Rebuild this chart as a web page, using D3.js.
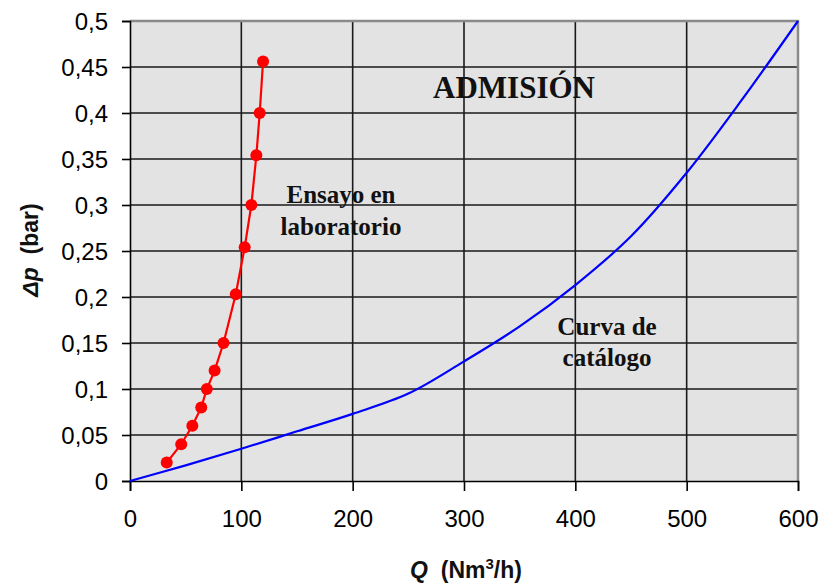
<!DOCTYPE html>
<html>
<head>
<meta charset="utf-8">
<script src="https://cdn.jsdelivr.net/npm/d3@7"></script>
<style>
  body { margin: 0; background: #fff; }
  svg { display: block; }
</style>
</head>
<body>
<svg id="chart" width="822" height="588"></svg>
<script>
// ensayo en laboratorio (red points)
var labQ  = [33, 46, 56, 64, 69, 76, 84, 95, 103, 109, 113.5, 116.5, 119.5];
var labDp = [0.02, 0.04, 0.06, 0.08, 0.10, 0.12, 0.15, 0.203, 0.254, 0.30, 0.354, 0.40, 0.456];

// curva de catalogo (blue line)
var catQ  = [0, 50, 100, 150, 200, 250, 300, 350, 400, 450, 500, 550, 600];
var catDp = [0, 0.017, 0.035, 0.054, 0.073, 0.095, 0.13, 0.168, 0.213, 0.266, 0.335, 0.415, 0.5];

var xTicks = [0, 100, 200, 300, 400, 500, 600];
var yTicks = [0, 0.05, 0.1, 0.15, 0.2, 0.25, 0.3, 0.35, 0.4, 0.45, 0.5];

var svg = d3.select("#chart");
var pLeft = 130, pRight = 798, pTop = 21, pBottom = 481;

var x = d3.scaleLinear().domain([0, 600]).range([pLeft, pRight]);
var y = d3.scaleLinear().domain([0, 0.5]).range([pBottom, pTop]);

var fmt = function(d) { return String(+d.toFixed(2)).replace(".", ","); };

// plot background
svg.append("rect")
  .attr("x", pLeft).attr("y", pTop)
  .attr("width", pRight - pLeft).attr("height", pBottom - pTop)
  .attr("fill", "#e3e3e3");

// grid
svg.append("g").selectAll("line")
  .data(yTicks.slice(1, -1))
  .enter().append("line")
    .attr("x1", pLeft).attr("x2", pRight)
    .attr("y1", function(d) { return y(d); })
    .attr("y2", function(d) { return y(d); })
    .attr("stroke", "#1a1a1a").attr("stroke-width", 1.6);

svg.append("g").selectAll("line")
  .data(xTicks.slice(1, -1))
  .enter().append("line")
    .attr("y1", pTop).attr("y2", pBottom)
    .attr("x1", function(d) { return x(d); })
    .attr("x2", function(d) { return x(d); })
    .attr("stroke", "#1a1a1a").attr("stroke-width", 1.6);

// grey frame top and right
svg.append("path")
  .attr("d", "M" + pLeft + "," + pTop + "H" + pRight + "V" + pBottom)
  .attr("fill", "none").attr("stroke", "#8a8a8a").attr("stroke-width", 2.5);

// axes
var yAxis = svg.append("g")
  .attr("transform", "translate(" + pLeft + ",0)")
  .call(d3.axisLeft(y).tickValues(yTicks).tickFormat(fmt).tickSize(8).tickPadding(14));

var xAxis = svg.append("g")
  .attr("transform", "translate(0," + pBottom + ")")
  .call(d3.axisBottom(x).tickValues(xTicks).tickFormat(d3.format("d")).tickSize(10).tickPadding(19));

[yAxis, xAxis].forEach(function(ax) {
  ax.select(".domain").attr("stroke", "#000").attr("stroke-width", 1.6);
  ax.selectAll(".tick line").attr("stroke", "#000").attr("stroke-width", 1.6);
  ax.selectAll(".tick text")
    .attr("font-family", "Arial, 'Liberation Sans', sans-serif")
    .attr("font-size", 24)
    .attr("fill", "#000");
});
yAxis.selectAll(".tick text").attr("dy", "0.36em");

// catalogue curve
var catLine = d3.line()
  .x(function(d) { return x(d[0]); })
  .y(function(d) { return y(d[1]); })
  .curve(d3.curveCatmullRom);

svg.append("path")
  .datum(d3.zip(catQ, catDp))
  .attr("d", catLine)
  .attr("fill", "none")
  .attr("stroke", "#0000ff")
  .attr("stroke-width", 2.2);

// lab data
var labData = d3.zip(labQ, labDp);
var labLine = d3.line()
  .x(function(d) { return x(d[0]); })
  .y(function(d) { return y(d[1]); });

svg.append("path")
  .datum(labData)
  .attr("d", labLine)
  .attr("fill", "none")
  .attr("stroke", "#ff0000")
  .attr("stroke-width", 2.2);

svg.selectAll("circle.lab")
  .data(labData)
  .enter().append("circle")
    .attr("class", "lab")
    .attr("cx", function(d) { return x(d[0]); })
    .attr("cy", function(d) { return y(d[1]); })
    .attr("r", 6)
    .attr("fill", "#ff0000");

// annotations
var serif = "'Times New Roman', 'Liberation Serif', serif";
function note(txt, cx, cy, size) {
  svg.append("text")
    .attr("x", cx).attr("y", cy)
    .attr("text-anchor", "middle")
    .attr("font-family", serif)
    .attr("font-weight", "bold")
    .attr("font-size", size)
    .attr("fill", "#111")
    .text(txt);
}
note("ADMISIÓN", 514, 98, 31);
note("Ensayo en", 341, 203, 25);
note("laboratorio", 341, 235, 25);
note("Curva de", 607, 335, 25);
note("catálogo", 607, 366, 25);

// axis titles
var sans = "Arial, 'Liberation Sans', sans-serif";
var yt = svg.append("text")
  .attr("transform", "translate(38,250) rotate(-90)")
  .attr("text-anchor", "middle")
  .attr("font-family", sans)
  .attr("font-weight", "bold")
  .attr("font-size", 23)
  .attr("fill", "#111");
yt.append("tspan").attr("font-style", "italic").text("Δp");
yt.append("tspan").text("\u00a0 (bar)");

var xt = svg.append("text")
  .attr("x", 466).attr("y", 578)
  .attr("text-anchor", "middle")
  .attr("font-family", sans)
  .attr("font-weight", "bold")
  .attr("font-size", 23)
  .attr("fill", "#111");
xt.append("tspan").attr("font-style", "italic").text("Q");
xt.append("tspan").text("\u00a0 (Nm");
xt.append("tspan").attr("font-size", 15).attr("dy", -9).text("3");
xt.append("tspan").attr("dy", 9).text("/h)");
</script>
</body>
</html>
